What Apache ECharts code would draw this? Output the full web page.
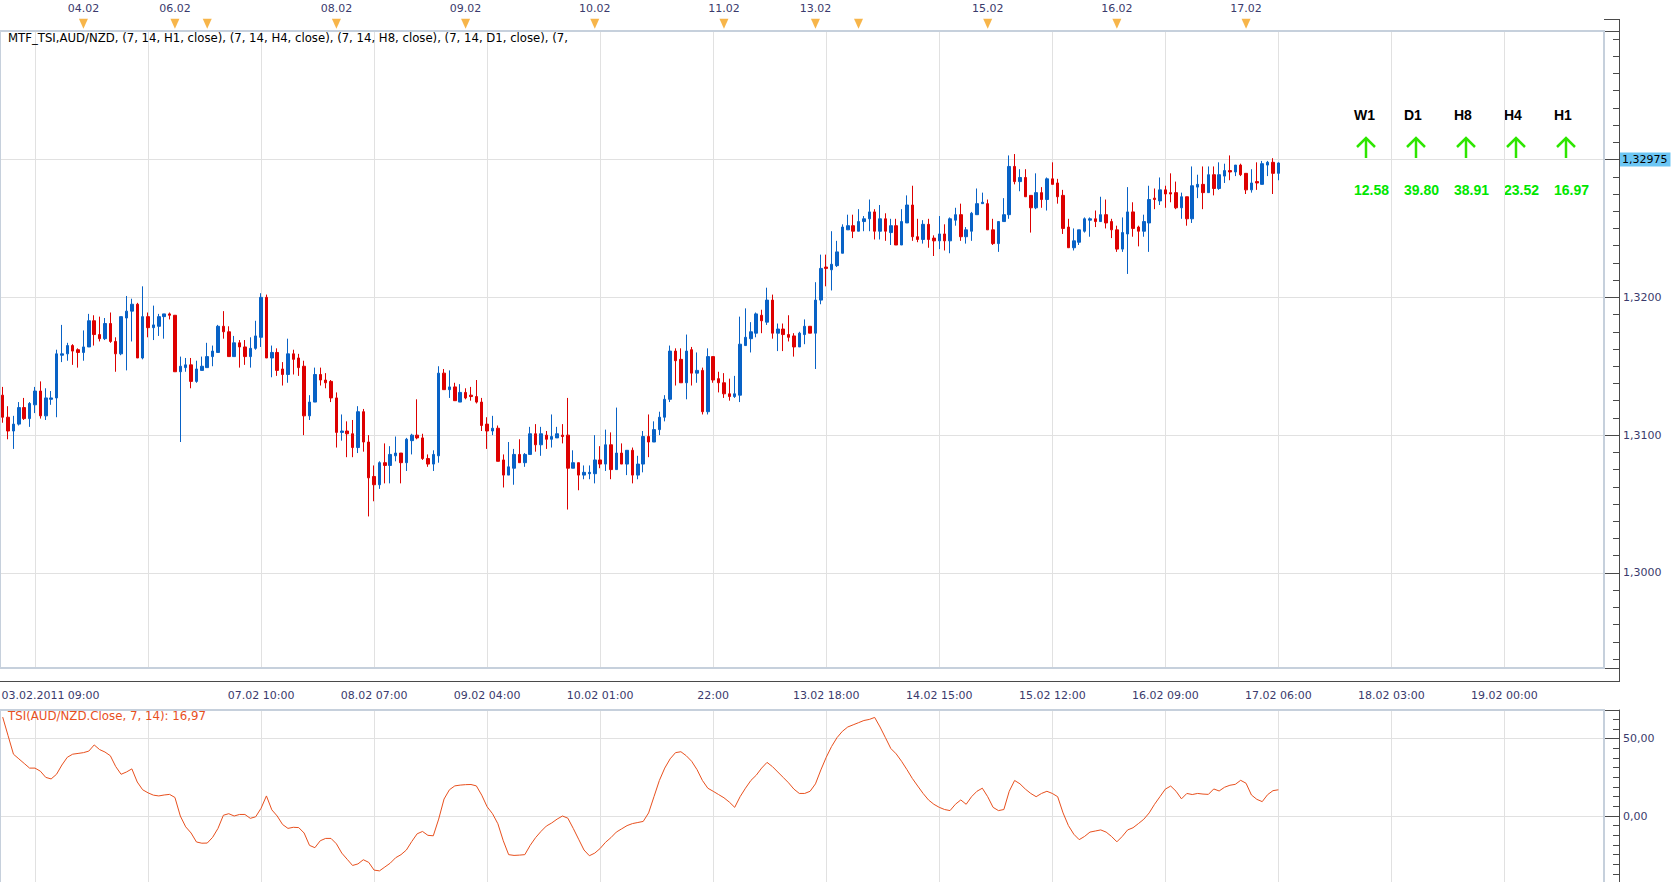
<!DOCTYPE html>
<html>
<head>
<meta charset="utf-8">
<title>AUD/NZD H1 - MTF_TSI</title>
<script src="https://cdn.jsdelivr.net/npm/echarts@6.0.0/dist/echarts.min.js"></script>
<style>
  html, body { margin: 0; padding: 0; background: #fff; }
  #main { width: 1676px; height: 882px; }
</style>
</head>
<body>
<div id="main"></div>
<script>
// ---- data (H1 bars) ----
var open = [
  1.3129,1.3113,1.3103,1.3108,1.3120,1.3112,1.3122,1.3132,1.3114,1.3126,
  1.3127,1.3158,1.3159,1.3165,1.3162,1.3160,1.3164,1.3183,1.3173,1.3170,
  1.3181,1.3168,1.3159,1.3185,1.3190,1.3195,1.3156,1.3186,1.3178,1.3179,
  1.3186,1.3188,1.3187,1.3146,1.3149,1.3151,1.3139,1.3147,1.3149,1.3157,
  1.3160,1.3179,1.3175,1.3157,1.3167,1.3164,1.3157,1.3163,1.3171,1.3200,
  1.3156,1.3160,1.3148,1.3144,1.3159,1.3156,1.3150,1.3114,1.3124,1.3144,
  1.3140,1.3139,1.3127,1.3102,1.3103,1.3101,1.3091,1.3117,1.3095,1.3070,
  1.3064,1.3080,1.3078,1.3085,1.3087,1.3080,1.3096,1.3100,1.3098,1.3083,
  1.3079,1.3085,1.3145,1.3133,1.3135,1.3124,1.3131,1.3129,1.3128,1.3124,
  1.3108,1.3103,1.3105,1.3082,1.3071,1.3076,1.3086,1.3080,1.3086,1.3101,
  1.3093,1.3100,1.3097,1.3098,1.3100,1.3100,1.3076,1.3080,1.3071,1.3072,
  1.3072,1.3082,1.3079,1.3093,1.3075,1.3087,1.3079,1.3089,1.3071,1.3079,
  1.3099,1.3095,1.3104,1.3113,1.3126,1.3161,1.3155,1.3138,1.3162,1.3145,
  1.3147,1.3117,1.3157,1.3141,1.3138,1.3130,1.3128,1.3129,1.3165,1.3170,
  1.3174,1.3187,1.3182,1.3198,1.3174,1.3177,1.3173,1.3172,1.3164,1.3173,
  1.3179,1.3174,1.3198,1.3222,1.3220,1.3223,1.3232,1.3249,1.3252,1.3248,
  1.3255,1.3257,1.3262,1.3248,1.3257,1.3247,1.3252,1.3238,1.3254,1.3267,
  1.3244,1.3242,1.3253,1.3243,1.3241,1.3246,1.3241,1.3256,1.3260,1.3244,
  1.3248,1.3260,1.3268,1.3268,1.3249,1.3239,1.3255,1.3260,1.3295,1.3284,
  1.3287,1.3274,1.3265,1.3276,1.3271,1.3286,1.3283,1.3274,1.3251,1.3236,
  1.3240,1.3248,1.3256,1.3257,1.3255,1.3260,1.3255,1.3249,1.3235,1.3246,
  1.3262,1.3251,1.3248,1.3254,1.3272,1.3270,1.3278,1.3276,1.3276,1.3265,
  1.3273,1.3257,1.3280,1.3282,1.3276,1.3289,1.3279,1.3288,1.3292,1.3291,
  1.3296,1.3290,1.3278,1.3284,1.3282,1.3296,1.3298,1.3290
];
var high = [
  1.3135,1.3121,1.3114,1.3124,1.3127,1.3124,1.3135,1.3139,1.3134,1.3132,
  1.3162,1.3180,1.3167,1.3166,1.3163,1.3176,1.3188,1.3187,1.3186,1.3185,
  1.3189,1.3171,1.3186,1.3201,1.3199,1.3196,1.3208,1.3189,1.3194,1.3188,
  1.3188,1.3189,1.3187,1.3157,1.3156,1.3156,1.3154,1.3157,1.3167,1.3165,
  1.3180,1.3190,1.3179,1.3172,1.3169,1.3169,1.3171,1.3183,1.3203,1.3202,
  1.3165,1.3163,1.3153,1.3170,1.3162,1.3159,1.3154,1.3129,1.3149,1.3149,
  1.3145,1.3140,1.3131,1.3115,1.3110,1.3111,1.3121,1.3119,1.3100,1.3078,
  1.3081,1.3094,1.3092,1.3099,1.3087,1.3098,1.3101,1.3126,1.3101,1.3086,
  1.3089,1.3150,1.3148,1.3147,1.3138,1.3137,1.3134,1.3135,1.3140,1.3127,
  1.3113,1.3114,1.3107,1.3086,1.3095,1.3090,1.3097,1.3087,1.3106,1.3108,
  1.3106,1.3103,1.3115,1.3106,1.3108,1.3127,1.3089,1.3080,1.3078,1.3078,
  1.3100,1.3092,1.3104,1.3102,1.3120,1.3094,1.3089,1.3091,1.3085,1.3103,
  1.3115,1.3110,1.3117,1.3129,1.3165,1.3163,1.3163,1.3173,1.3164,1.3160,
  1.3149,1.3163,1.3157,1.3146,1.3145,1.3141,1.3143,1.3186,1.3192,1.3182,
  1.3189,1.3191,1.3207,1.3202,1.3181,1.3181,1.3187,1.3174,1.3175,1.3184,
  1.3179,1.3211,1.3231,1.3231,1.3248,1.3241,1.3253,1.3260,1.3260,1.3264,
  1.3259,1.3271,1.3264,1.3267,1.3261,1.3257,1.3257,1.3264,1.3274,1.3281,
  1.3257,1.3256,1.3257,1.3245,1.3259,1.3253,1.3258,1.3265,1.3268,1.3251,
  1.3262,1.3279,1.3276,1.3271,1.3257,1.3255,1.3272,1.3303,1.3304,1.3293,
  1.3293,1.3274,1.3290,1.3280,1.3287,1.3298,1.3286,1.3278,1.3257,1.3250,
  1.3249,1.3258,1.3258,1.3263,1.3273,1.3271,1.3257,1.3252,1.3258,1.3280,
  1.3269,1.3252,1.3260,1.3281,1.3279,1.3287,1.3281,1.3290,1.3284,1.3276,
  1.3273,1.3295,1.3289,1.3295,1.3295,1.3295,1.3298,1.3297,1.3303,1.3296,
  1.3297,1.3290,1.3293,1.3298,1.3299,1.3299,1.3301,1.3298
];
var low = [
  1.3109,1.3097,1.3090,1.3107,1.3111,1.3106,1.3116,1.3112,1.3111,1.3122,
  1.3113,1.3153,1.3154,1.3151,1.3149,1.3154,1.3164,1.3165,1.3168,1.3169,
  1.3167,1.3146,1.3158,1.3147,1.3168,1.3156,1.3155,1.3171,1.3169,1.3172,
  1.3170,1.3184,1.3146,1.3095,1.3146,1.3134,1.3138,1.3147,1.3149,1.3150,
  1.3160,1.3170,1.3157,1.3157,1.3149,1.3151,1.3149,1.3162,1.3164,1.3156,
  1.3142,1.3143,1.3136,1.3138,1.3144,1.3143,1.3100,1.3111,1.3124,1.3136,
  1.3134,1.3124,1.3091,1.3096,1.3084,1.3084,1.3087,1.3088,1.3041,1.3052,
  1.3061,1.3065,1.3065,1.3081,1.3065,1.3074,1.3086,1.3097,1.3082,1.3077,
  1.3074,1.3080,1.3133,1.3127,1.3125,1.3124,1.3126,1.3125,1.3123,1.3103,
  1.3090,1.3100,1.3081,1.3062,1.3071,1.3064,1.3080,1.3077,1.3086,1.3088,
  1.3085,1.3090,1.3091,1.3098,1.3094,1.3046,1.3076,1.3060,1.3068,1.3068,
  1.3065,1.3076,1.3074,1.3068,1.3075,1.3079,1.3071,1.3065,1.3068,1.3073,
  1.3084,1.3095,1.3100,1.3110,1.3124,1.3136,1.3138,1.3126,1.3136,1.3138,
  1.3115,1.3115,1.3138,1.3131,1.3127,1.3125,1.3127,1.3124,1.3165,1.3160,
  1.3171,1.3174,1.3180,1.3170,1.3161,1.3161,1.3168,1.3157,1.3164,1.3166,
  1.3174,1.3148,1.3195,1.3208,1.3205,1.3222,1.3232,1.3249,1.3243,1.3248,
  1.3248,1.3248,1.3242,1.3242,1.3241,1.3238,1.3238,1.3238,1.3254,1.3241,
  1.3240,1.3239,1.3236,1.3230,1.3235,1.3234,1.3232,1.3252,1.3241,1.3239,
  1.3241,1.3260,1.3268,1.3249,1.3238,1.3233,1.3255,1.3257,1.3282,1.3277,
  1.3273,1.3247,1.3264,1.3265,1.3263,1.3282,1.3268,1.3246,1.3236,1.3234,
  1.3238,1.3247,1.3244,1.3251,1.3255,1.3250,1.3243,1.3233,1.3233,1.3217,
  1.3244,1.3237,1.3244,1.3233,1.3264,1.3267,1.3265,1.3269,1.3264,1.3257,
  1.3252,1.3254,1.3272,1.3264,1.3276,1.3274,1.3278,1.3283,1.3285,1.3288,
  1.3288,1.3275,1.3276,1.3278,1.3282,1.3288,1.3275,1.3285
];
var close = [
  1.3113,1.3103,1.3108,1.3120,1.3112,1.3123,1.3132,1.3114,1.3127,1.3127,
  1.3159,1.3159,1.3165,1.3161,1.3160,1.3164,1.3183,1.3173,1.3170,1.3181,
  1.3168,1.3159,1.3186,1.3190,1.3195,1.3156,1.3186,1.3178,1.3180,1.3186,
  1.3188,1.3187,1.3146,1.3150,1.3151,1.3139,1.3148,1.3150,1.3157,1.3161,
  1.3179,1.3175,1.3157,1.3167,1.3164,1.3157,1.3163,1.3172,1.3200,1.3156,
  1.3160,1.3147,1.3144,1.3159,1.3155,1.3149,1.3114,1.3124,1.3144,1.3140,
  1.3138,1.3127,1.3102,1.3103,1.3101,1.3091,1.3117,1.3095,1.3069,1.3064,
  1.3080,1.3078,1.3086,1.3087,1.3080,1.3097,1.3100,1.3098,1.3083,1.3079,
  1.3086,1.3145,1.3133,1.3135,1.3125,1.3131,1.3127,1.3128,1.3124,1.3107,
  1.3103,1.3105,1.3081,1.3071,1.3077,1.3086,1.3080,1.3086,1.3101,1.3093,
  1.3101,1.3097,1.3099,1.3101,1.3099,1.3076,1.3080,1.3071,1.3073,1.3073,
  1.3082,1.3079,1.3093,1.3075,1.3087,1.3079,1.3089,1.3071,1.3079,1.3099,
  1.3095,1.3104,1.3113,1.3126,1.3161,1.3154,1.3138,1.3161,1.3145,1.3147,
  1.3117,1.3157,1.3140,1.3138,1.3130,1.3128,1.3130,1.3166,1.3171,1.3175,
  1.3188,1.3183,1.3198,1.3174,1.3177,1.3173,1.3171,1.3164,1.3174,1.3179,
  1.3174,1.3198,1.3221,1.3221,1.3224,1.3233,1.3251,1.3252,1.3248,1.3255,
  1.3257,1.3262,1.3248,1.3257,1.3248,1.3252,1.3238,1.3255,1.3267,1.3244,
  1.3242,1.3253,1.3242,1.3241,1.3246,1.3241,1.3257,1.3260,1.3244,1.3249,
  1.3261,1.3268,1.3269,1.3249,1.3239,1.3255,1.3260,1.3295,1.3284,1.3287,
  1.3273,1.3265,1.3276,1.3271,1.3286,1.3282,1.3273,1.3250,1.3236,1.3241,
  1.3249,1.3257,1.3257,1.3255,1.3260,1.3254,1.3249,1.3235,1.3247,1.3262,
  1.3250,1.3248,1.3255,1.3271,1.3271,1.3278,1.3275,1.3275,1.3265,1.3273,
  1.3257,1.3281,1.3282,1.3276,1.3289,1.3279,1.3289,1.3292,1.3291,1.3296,
  1.3289,1.3278,1.3283,1.3283,1.3297,1.3298,1.3290,1.32975
];
var tsi = [
  64,52,40,37,34,31,31,29,25,24,
  27,33,38,40,40.5,41,42,46,43,41.4,
  39,32,27,28.5,30.5,22,17,15,13.5,13,
  13.6,14,12,0,-7,-11,-16.8,-17.6,-17.5,-13.8,
  -8,0.5,1.5,0,1,1,-1.5,-0.5,5,13,
  4,0,-5.5,-8,-7.3,-7.5,-11,-19,-20.5,-16,
  -14.5,-14.5,-18,-24,-28,-32,-31,-28.3,-30,-35,
  -35.5,-33,-30.5,-27,-25,-22,-16.5,-11.5,-10,-12.5,
  -12.8,-2,11,17,19.5,20,20.3,20.4,19.5,13.5,
  6,1.5,-5,-16,-25,-25.5,-25.3,-25,-19,-14,
  -10,-6.5,-4.5,-2,0,-1.4,-8,-15,-22,-25.7,
  -24,-21,-17,-14,-10.4,-8.3,-6.2,-4.9,-4.2,-3.5,
  2,12.5,23,31,37,41,41.6,39,35.4,30,
  23,18,16,13.9,11.8,9,5.6,12.5,18,23,
  26.4,31,34.7,32,28.5,25,21.5,17.4,14.6,14.6,
  16,20.8,29.8,38,45,50.7,54.8,57.6,59,60.4,
  61.8,62.5,63.8,57.6,50.7,43.7,40.2,35.4,30,24.3,
  19.4,14.6,10.4,7.6,5.6,4.2,3.5,7.6,10.4,7.6,
  12.5,16,18,12.5,5.6,3.5,4.2,16,23,20.8,
  17.4,14.6,12.5,14.6,16,14.6,12.5,2,-6.2,-11.8,
  -15.3,-13.2,-10.4,-9.7,-9,-10.4,-13.2,-16.7,-13.2,-9,
  -7.6,-4.9,-2.1,2,7.6,12.5,17.4,19.4,16,11.1,
  14.6,13.9,14.6,14.2,14.0,17.5,16.2,18.6,19.9,20.5,
  23.1,21.2,13.6,10.8,9.3,13.8,16.4,16.97
];

// time axis: a label every 21 bars, starting at bar 6
var slotCount = 298;             // bars + empty space on the right
var firstTickBar = 6, tickStep = 21;
var timeLabels = ['03.02.2011 09:00', '', '07.02 10:00', '08.02 07:00', '09.02 04:00',
  '10.02 01:00', '22:00', '13.02 18:00', '14.02 15:00', '15.02 12:00',
  '16.02 09:00', '17.02 06:00', '18.02 03:00', '19.02 00:00'];

// day scale on top
var dayBars   = [15, 32, 38, 62, 86, 110, 134, 151, 159, 183, 207, 231, 255, 279];
var dayLabels = ['04.02', '06.02', '', '08.02', '09.02', '10.02', '11.02', '13.02', '', '15.02', '16.02', '17.02', '', ''];
var eventBars = [15, 32, 38, 62, 86, 110, 134, 151, 159, 183, 207, 231];

// MTF_TSI panel
var tfNames  = ['W1', 'D1', 'H8', 'H4', 'H1'];
var tfValues = ['12.58', '39.80', '38.91', '23.52', '16.97'];

var headerText = 'MTF_TSI,AUD/NZD, (7, 14, H1, close), (7, 14, H4, close), (7, 14, H8, close), (7, 14, D1, close), (7,';

// ---- helpers ----
var cats = [];
for (var i = 0; i < slotCount; i++) cats.push(String(i));

var timeTickAt = {};
var gridBars = [];
timeLabels.forEach(function (t, k) {
  var b = firstTickBar + k * tickStep;
  timeTickAt[b] = t;
  gridBars.push(b);
});
var dayTickAt = {};
dayBars.forEach(function (b, k) { dayTickAt[b] = dayLabels[k]; });

var candles = open.map(function (o, k) { return [o, close[k], low[k], high[k]]; });
var lastClose = close[close.length - 1];
var lastTsi = tsi[tsi.length - 1];

function comma(v, d) { return v.toFixed(d).replace('.', ','); }

var axisColor = '#4a4a4a';
var labelColor = '#3a3a6c';
var gridColor = '#e1e1e1';
var frameColor = '#c6d0dc';
var upColor = '#0862c6';
var downColor = '#dd0000';
var tsiColor = '#e8501e';
var font = 'DejaVu Sans';

var vGrid = gridBars.map(function (b) { return { xAxis: b }; });

var dom = document.getElementById('main');
var myChart = echarts.init(dom, null, { renderer: 'svg' });

var panel = [];
tfNames.forEach(function (n, k) {
  var x = 1354 + k * 50;
  panel.push({ type: 'text', x: x, y: 115, style: { text: n, fill: '#000', font: 'bold 14px "Liberation Sans"', textVerticalAlign: 'middle' } });
  panel.push({ type: 'polyline', shape: { points: [[x + 3, 147], [x + 12, 138], [x + 21, 147]] }, style: { stroke: '#2ee600', lineWidth: 2.5, fill: null } });
  panel.push({ type: 'line', shape: { x1: x + 12, y1: 139, x2: x + 12, y2: 158 }, style: { stroke: '#2ee600', lineWidth: 2.5 } });
  panel.push({ type: 'text', x: x, y: 190, style: { text: tfValues[k], fill: '#00e600', font: 'bold 14px "Liberation Sans"', textVerticalAlign: 'middle' } });
});

var option = {
  animation: false,
  backgroundColor: '#ffffff',
  textStyle: { fontFamily: font },
  title: [
    { text: headerText, left: 8, top: 32, padding: 0,
      textStyle: { fontSize: 11.7, fontWeight: 'normal', color: '#000', fontFamily: font } },
    { text: 'TSI(AUD/NZD.Close, 7, 14): ' + comma(lastTsi, 2), left: 8, top: 710, padding: 0,
      textStyle: { fontSize: 11.8, fontWeight: 'normal', color: tsiColor, fontFamily: font } }
  ],
  grid: [
    { left: 0, top: 31, width: 1604, height: 637, outerBoundsMode: 'none' },
    { left: 0, top: 710, width: 1604, height: 172, outerBoundsMode: 'none' },
    { left: 0, top: 668, width: 1604, height: 13, outerBoundsMode: 'none' },
    { left: 0, top: 19, width: 1604, height: 12, outerBoundsMode: 'none' }
  ],
  xAxis: [
    { gridIndex: 0, type: 'category', data: cats, show: false },
    { gridIndex: 1, type: 'category', data: cats, show: false },
    { gridIndex: 2, type: 'category', data: cats, position: 'bottom',
      axisLine: { lineStyle: { color: axisColor } },
      axisTick: { inside: true, length: 5, alignWithLabel: true, lineStyle: { color: axisColor },
        interval: function (idx) { return idx % 3 === 0; } },
      axisLabel: { show: false }, splitLine: { show: false } },
    { gridIndex: 2, type: 'category', data: cats, position: 'bottom',
      axisLine: { show: false },
      axisTick: { inside: true, length: 12, alignWithLabel: true, lineStyle: { color: axisColor },
        interval: function (idx) { return timeTickAt.hasOwnProperty(idx); } },
      axisLabel: { margin: 9, fontSize: 11, color: labelColor, fontFamily: font,
        interval: function (idx) { return timeTickAt.hasOwnProperty(idx) && timeTickAt[idx] !== ''; },
        formatter: function (v, idx) {
          var t = timeTickAt[idx] || '';
          return idx === firstTickBar ? '{first|' + t + '}' : t;
        },
        rich: { first: { fontSize: 11, color: labelColor, fontFamily: font, padding: [0, 0, 0, 31] } } },
      splitLine: { show: false } },
    { gridIndex: 3, type: 'category', data: cats, position: 'top',
      axisLine: { lineStyle: { color: axisColor } },
      axisTick: { inside: true, length: 4, alignWithLabel: true, lineStyle: { color: axisColor },
        interval: function (idx) { return idx % 3 === 0; } },
      axisLabel: { show: false }, splitLine: { show: false } },
    { gridIndex: 3, type: 'category', data: cats, position: 'top',
      axisLine: { show: false },
      axisTick: { inside: true, length: 13, alignWithLabel: true, lineStyle: { color: axisColor },
        interval: function (idx) { return dayTickAt.hasOwnProperty(idx); } },
      axisLabel: { margin: 5, fontSize: 11, color: labelColor, fontFamily: font,
        interval: function (idx) { return !!dayTickAt[idx]; },
        formatter: function (v, idx) { return dayTickAt[idx] || ''; } },
      splitLine: { show: false } }
  ],
  yAxis: [
    { gridIndex: 0, type: 'value', position: 'right', offset: 15,
      min: 1.29310, max: 1.33933, splitNumber: 5,
      axisLine: { show: true, lineStyle: { color: axisColor } },
      axisTick: { show: true, inside: true, length: 14, lineStyle: { color: axisColor } },
      minorTick: { show: true, splitNumber: 8, length: 6, lineStyle: { color: axisColor } },
      splitLine: { show: true, lineStyle: { color: gridColor, width: 1 } },
      axisLabel: { showMinLabel: false, showMaxLabel: false, margin: 4, fontSize: 11, color: labelColor, fontFamily: font,
        formatter: function (v) { return Math.abs(v - lastClose) < 0.0008 ? '' : comma(v, 4); } } },
    { gridIndex: 1, type: 'value', position: 'right', offset: 15,
      min: -42.7, max: 68.6, splitNumber: 2,
      axisLine: { show: true, lineStyle: { color: axisColor } },
      axisTick: { show: true, inside: true, length: 14, lineStyle: { color: axisColor } },
      minorTick: { show: true, splitNumber: 8, length: 6, lineStyle: { color: axisColor } },
      splitLine: { show: true, lineStyle: { color: gridColor, width: 1 } },
      axisLabel: { showMinLabel: false, showMaxLabel: false, margin: 4, fontSize: 11, color: labelColor, fontFamily: font,
        formatter: function (v) { return comma(v, 2); } } },
    { gridIndex: 2, type: 'value', show: false, min: 0, max: 1 },
    { gridIndex: 3, type: 'value', show: false, min: 0, max: 1 }
  ],
  series: [
    {
      name: 'AUD/NZD', type: 'candlestick', xAxisIndex: 0, yAxisIndex: 0,
      data: candles, barWidth: 3,
      itemStyle: { color: upColor, color0: downColor, borderColor: upColor, borderColor0: downColor, borderWidth: 1 },
      markLine: {
        silent: true, symbol: ['none', 'none'], z: 1, animation: false,
        lineStyle: { color: gridColor, width: 1, type: 'solid' },
        label: { show: false },
        data: vGrid.concat([{
          yAxis: lastClose,
          lineStyle: { color: 'rgba(0,0,0,0)' },
          label: { show: true, position: 'end', distance: 16, formatter: comma(lastClose, 5),
            color: '#000', fontSize: 11, fontFamily: font, backgroundColor: '#6cc6f4', padding: [2, 3, 1, 2] }
        }])
      }
    },
    {
      name: 'TSI', type: 'line', xAxisIndex: 1, yAxisIndex: 1,
      data: tsi, showSymbol: false, symbol: 'none',
      lineStyle: { color: tsiColor, width: 1 },
      markLine: {
        silent: true, symbol: ['none', 'none'], z: 1, animation: false,
        lineStyle: { color: gridColor, width: 1, type: 'solid' },
        label: { show: false },
        data: vGrid
      }
    },
    {
      name: 'events', type: 'scatter', xAxisIndex: 5, yAxisIndex: 3,
      data: eventBars.map(function (b) { return [b, 0.6]; }),
      symbol: 'triangle', symbolRotate: 180, symbolSize: [9, 10],
      itemStyle: { color: '#f5a21d' }, silent: true
    }
  ],
  graphic: [
    { type: 'rect', silent: true, z: 100, shape: { x: 0, y: 31, width: 1604, height: 637 },
      style: { fill: null, stroke: frameColor, lineWidth: 2 } },
    { type: 'rect', silent: true, z: 100, shape: { x: 0, y: 710, width: 1604, height: 190 },
      style: { fill: null, stroke: frameColor, lineWidth: 2 } },
    { type: 'line', silent: true, z: 100, shape: { x1: 1619.5, y1: 19, x2: 1619.5, y2: 681 },
      style: { stroke: axisColor, lineWidth: 1 } },
    { type: 'line', silent: true, z: 100, shape: { x1: 1604, y1: 19.5, x2: 1620, y2: 19.5 },
      style: { stroke: axisColor, lineWidth: 1 } },
    { type: 'line', silent: true, z: 100, shape: { x1: 1604, y1: 681.5, x2: 1620, y2: 681.5 },
      style: { stroke: axisColor, lineWidth: 1 } }
  ].concat(panel)
};

myChart.setOption(option, true);
</script>
</body>
</html>
